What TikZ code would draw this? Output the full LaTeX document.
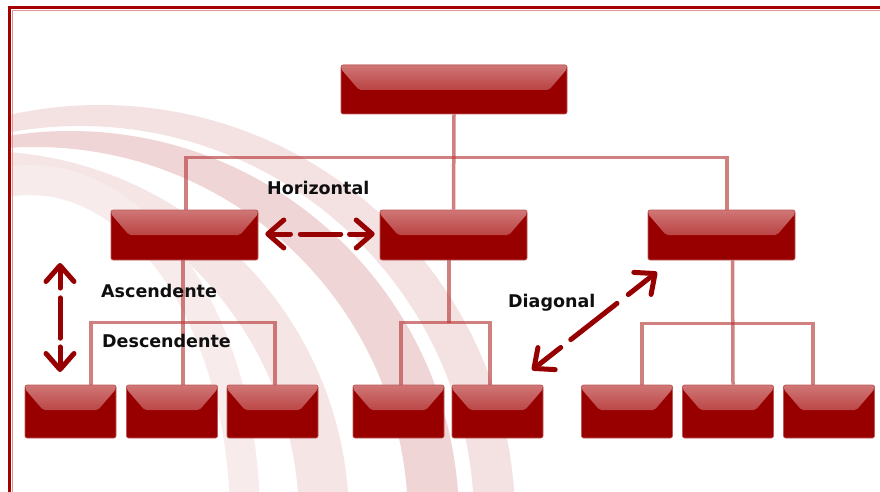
\documentclass[tikz,border=0pt]{standalone}
\usepackage{fontspec}
\setmainfont{DejaVu Sans}
\usetikzlibrary{arrows.meta,calc,backgrounds}
\definecolor{boxred}{RGB}{152,0,0}
\definecolor{boxedge}{RGB}{190,90,90}
\definecolor{glosstop}{RGB}{208,118,118}
\definecolor{glossbot}{RGB}{164,18,18}
\definecolor{connred}{RGB}{185,60,60}
\definecolor{arrred}{RGB}{150,0,0}
\definecolor{framered}{RGB}{165,0,0}
\definecolor{framelight}{RGB}{222,150,150}
\definecolor{bgarcA}{RGB}{244,225,225}
\definecolor{bgarcB}{RGB}{239,213,213}
\definecolor{bgarcC}{RGB}{245,229,229}
\definecolor{bgarcD}{RGB}{247,235,235}
\definecolor{textdark}{RGB}{15,15,15}
\newcommand\orgdblarrow[2]{%
  \draw[arrline,-{Straight Barb[length=16pt,width=28pt,round]}] ($(#1)!0.23!(#2)$) -- (#1);
  \draw[arrline] ($(#1)!0.32!(#2)$) -- ($(#1)!0.69!(#2)$);
  \draw[arrline,-{Straight Barb[length=16pt,width=28pt,round]}] ($(#1)!0.77!(#2)$) -- (#2);
}
\begin{document}
\begin{tikzpicture}[x=1pt,y=-1pt,
  orgbox/.style={inner sep=0pt, rounded corners=2pt, fill=boxred, draw=boxedge, line width=0.6pt,
    path picture={
      \shade[top color=glosstop, bottom color=glossbot]
        (path picture bounding box.north west) -- (path picture bounding box.north east)
        -- ($(path picture bounding box.north east)+(0,4)$)
        -- ($(path picture bounding box.north east)+(-18,25)$)
        -- ($(path picture bounding box.north west)+(18,25)$)
        -- ($(path picture bounding box.north west)+(0,4)$) -- cycle;
    }},
  bigbox/.style={orgbox, minimum width=226pt, minimum height=49pt},
  midbox/.style={orgbox, minimum width=147pt, minimum height=50pt},
  smallbox/.style={orgbox, minimum width=91pt, minimum height=53pt},
  conn/.style={draw=connred, draw opacity=0.65, line width=3.5pt},
  arrline/.style={draw=arrred, line width=5pt, line cap=round},
  lbl/.style={font=\bfseries\fontsize{17.5}{20}\selectfont, text=textdark, inner sep=0pt, anchor=base west}
]
\useasboundingbox (0,0) rectangle (880,492);

\begin{pgfonlayer}{background}
\fill[white] (0,0) rectangle (880,492);
% background arcs
\begin{scope}
  \clip (11,10) rectangle (880,492);
  \fill[bgarcA, even odd rule] (100,520) circle [radius=415] (80,520) circle [radius=394];
  \fill[bgarcB, even odd rule] (70,520) circle [radius=389] (35,520) circle [radius=373];
  \fill[bgarcC, even odd rule] (-20,520) circle [radius=369] (-55,520) circle [radius=354];
  \draw[bgarcD, line width=30pt] (30,520) ellipse [x radius=215, y radius=340];
\end{scope}
\end{pgfonlayer}

% frame
\draw[framelight, line width=1pt] (12,492) -- (12,10.5) -- (880,10.5);
\draw[framered, line width=3pt] (9.5,492) -- (9.5,7.5) -- (880,7.5);

% boxes
\node[bigbox] (top) at (454,89.5) {};
\node[midbox] (l2a) at (184.5,235) {};
\node[midbox] (l2b) at (453.5,235) {};
\node[midbox] (l2c) at (721.5,235) {};
\node[smallbox] (l3a) at (70.5,411.5) {};
\node[smallbox] (l3b) at (172,411.5) {};
\node[smallbox] (l3c) at (272.5,411.5) {};
\node[smallbox] (l3d) at (398.5,411.5) {};
\node[smallbox] (l3e) at (497.5,411.5) {};
\node[smallbox] (l3f) at (627,411.5) {};
\node[smallbox] (l3g) at (728,411.5) {};
\node[smallbox] (l3h) at (829,411.5) {};

% connectors (behind boxes)
\begin{pgfonlayer}{background}
\draw[conn] (top.south) -- (l2b.north);
\draw[conn] ($(l2a.north)+(1.5,0)$) |- ($(top.south)+(0,43)$) -| ($(l2c.north)+(5.5,0)$);
% left group
\draw[conn] ($(l2a.south)+(-1.5,0)$) -- ($(l3b.north)+(11,0)$);
\draw[conn] ($(l3a.north)+(20.5,0)$) -- ++(0,-62) -| ($(l3c.north)+(2.5,0)$);
% middle group
\draw[conn] ($(l2b.south)+(-4.5,0)$) -- ++(0,63);
\draw[conn] ($(l3d.north)+(2.5,0)$) -- ++(0,-62) -| ($(l3e.north)+(-7.5,0)$);
% right group
\draw[conn] ($(l2c.south)+(11,0)$) -- ($(l3g.north)+(5,0)$);
\draw[conn] ($(l3f.north)+(15,0)$) -- ++(0,-61) -| ($(l3h.north)+(-16,0)$);
\end{pgfonlayer}

% relation arrows
\coordinate (hA) at ($(l2a.east)+(7,-1)$);
\coordinate (hB) at ($(l2b.west)+(-5,-1)$);
\coordinate (vA) at (60,263);
\coordinate (vB) at (60,372);
\coordinate (dA) at (657,272);
\coordinate (dB) at (532,370);
\orgdblarrow{hA}{hB}
\orgdblarrow{vA}{vB}
\orgdblarrow{dA}{dB}

% labels
\node[lbl] (thor) at (267,194) {Horizontal};
\node[lbl] (tasc) at (101,297) {Ascendente};
\node[lbl] (tdes) at (102,347) {Descendente};
\node[lbl] (tdia) at (508,307) {Diagonal};
\end{tikzpicture}
\end{document}
